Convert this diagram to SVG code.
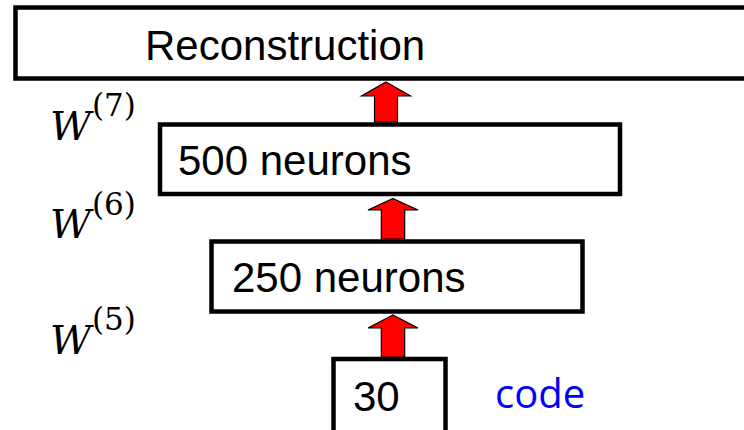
<svg xmlns="http://www.w3.org/2000/svg" width="744" height="430" viewBox="0 0 744 430">
<defs>
<style>
.box{fill:#fff;stroke:#000;stroke-width:4.5}
.lbl{font-family:"Liberation Sans",Arial,sans-serif;font-size:42px;fill:#000}
.arrow{fill:#ff0000;stroke:#000;stroke-width:1.2;stroke-linejoin:miter}
.w{font-family:"DejaVu Serif",serif;font-style:italic;font-size:40px;fill:#000}
.sup{font-family:"DejaVu Serif",serif;font-style:normal;font-size:31px;fill:#000}
.code{font-family:"Open Sans","Liberation Sans",sans-serif;font-size:40px;fill:#0000ff}
</style>
</defs>
<rect width="744" height="430" fill="#fff"/>
<g id="reconstruction">
<rect class="box" x="15.5" y="7.5" width="740" height="71"/>
<text class="lbl" x="145" y="60">Reconstruction</text>
</g>
<g id="h500">
<rect class="box" x="160" y="124.5" width="460" height="69.5"/>
<text class="lbl" x="178" y="175">500 neurons</text>
</g>
<g id="h250">
<rect class="box" x="211.5" y="241.5" width="371" height="70"/>
<text class="lbl" x="232" y="292">250 neurons</text>
</g>
<g id="code30">
<rect class="box" x="333.5" y="359" width="112" height="80"/>
<text class="lbl" x="353" y="411">30</text>
</g>
<g id="codelabel">
<text class="code" x="495" y="408">code</text>
</g>
<g id="weights">
<text class="w" x="50" y="140">W<tspan class="sup" x="92" y="116">(7)</tspan></text>
<text class="w" x="50" y="238">W<tspan class="sup" x="92" y="215">(6)</tspan></text>
<text class="w" x="50" y="354">W<tspan class="sup" x="92" y="330">(5)</tspan></text>
</g>
<g id="connectors">
<polygon class="arrow" points="386,82 410.5,96 397.5,96 397.5,122 374.5,122 374.5,96 361.5,96"/>
<polygon class="arrow" points="393,198.5 418,210 404.7,210 404.7,239 381.3,239 381.3,210 368,210"/>
<polygon class="arrow" points="393,315 418,328 404.7,328 404.7,357 381.3,357 381.3,328 368,328"/>
</g>
</svg>
